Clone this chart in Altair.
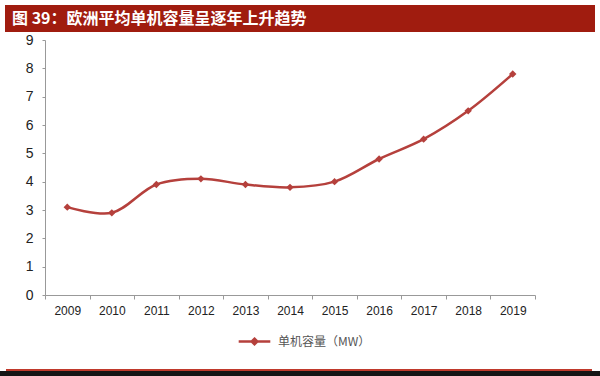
import altair as alt
import pandas as pd

years = ["2009", "2010", "2011", "2012", "2013", "2014", "2015", "2016", "2017", "2018", "2019"]
capacity = [3.1, 2.9, 3.9, 4.1, 3.9, 3.8, 4.0, 4.8, 5.5, 6.5, 7.8]
y_ticks = [0, 1, 2, 3, 4, 5, 6, 7, 8, 9]
series_name = "单机容量（MW）"
title_text = "图 39：欧洲平均单机容量呈逐年上升趋势"

df = pd.DataFrame({"year": years, "value": capacity, "series": [series_name] * len(years)})
one = pd.DataFrame({"k": [0]})

RED = "#b5403c"

x_enc = alt.X("year:N", sort=years, title=None,
              scale=alt.Scale(paddingInner=0, paddingOuter=0),
              axis=alt.Axis(labelAngle=0, labelFontSize=12, labelColor="#222",
                            labelFont="Liberation Sans", labelPadding=6,
                            tickBand="extent", tickSize=4, tickColor="#999",
                            domainColor="#999", grid=False))
y_enc = alt.Y("value:Q", title=None,
              scale=alt.Scale(domain=[0, 9], nice=False),
              axis=alt.Axis(values=y_ticks, labelOverlap=False, labelFontSize=14, labelColor="#222",
                            labelFont="Liberation Sans", labelPadding=9,
                            tickSize=3, tickColor="#999", domainColor="#999", grid=False))
color_enc = alt.Color("series:N", title=None,
                      scale=alt.Scale(domain=[series_name], range=[RED]),
                      legend=alt.Legend(orient="none", legendX=192, legendY=284,
                                        symbolType="M-1,0H1M0,-0.18L0.18,0L0,0.18L-0.18,0Z",
                                        symbolSize=1000, symbolStrokeWidth=2.5,
                                        symbolFillColor=RED, symbolStrokeColor=RED,
                                        labelFontSize=12, labelColor="#555",
                                        labelFont="Noto Sans CJK SC", labelOffset=6))

line = alt.Chart(df).mark_line(interpolate="catmull-rom", strokeWidth=2.5).encode(
    x=x_enc, y=y_enc, color=color_enc)
pts = alt.Chart(df).mark_point(shape="diamond", filled=True, size=55, opacity=1, color=RED).encode(
    x=x_enc, y=y_enc)

bar = alt.Chart(one).mark_rect(color="#a01c0f").encode(
    x=alt.value(-40), x2=alt.value(550), y=alt.value(-35), y2=alt.value(-8))
ttl = alt.Chart(one).mark_text(text=title_text, color="white", fontSize=16, fontWeight="bold",
                               font="Noto Sans CJK SC", align="left", baseline="middle").encode(
    x=alt.value(-33), y=alt.value(-21))
redline = alt.Chart(one).mark_rect(color="#c0392b").encode(
    x=alt.value(-39), x2=alt.value(547), y=alt.value(329), y2=alt.value(331))
black = alt.Chart(one).mark_rect(color="#151515").encode(
    x=alt.value(-45), x2=alt.value(555), y=alt.value(331), y2=alt.value(336))

chart = alt.layer(bar, ttl, redline, black, line, pts).properties(
    width=490, height=255,
    autosize=alt.AutoSizeParams(type="none"),
    padding={"left": 45, "top": 40, "right": 65, "bottom": 81},
    background="white",
).configure_view(stroke=None)

chart.save("out.html", embed_options={"renderer": "svg", "actions": False})
